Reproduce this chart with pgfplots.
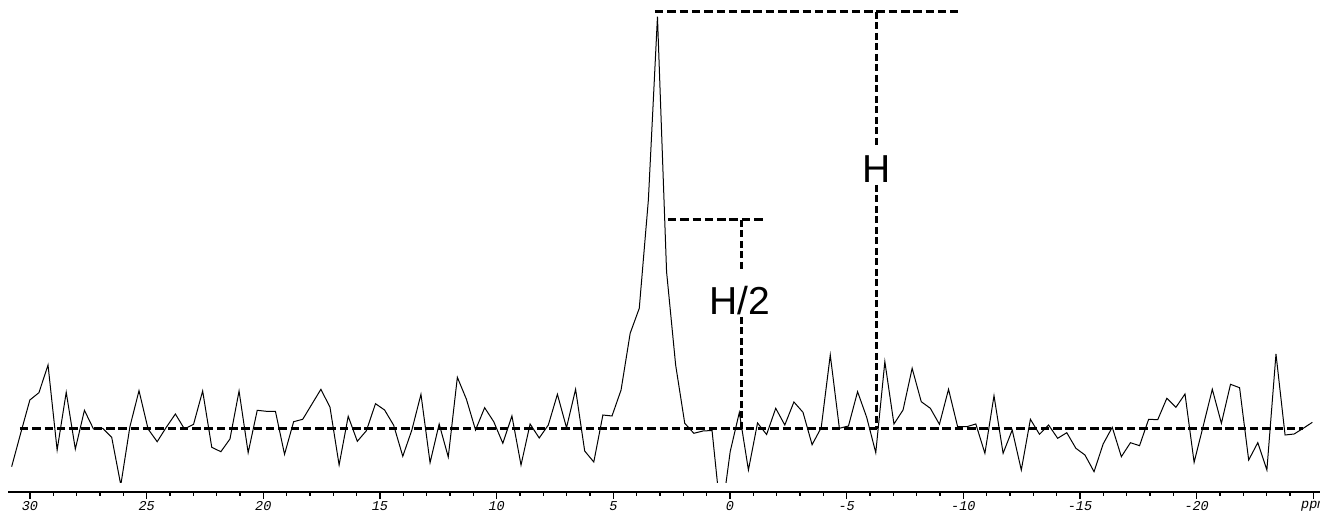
\documentclass[border=0pt]{standalone}
\usepackage{fontspec}
\usepackage{pgfplots}
\pgfplotsset{compat=1.18}
\newfontfamily\monoit{Liberation Mono}
\newfontfamily\sansf{Liberation Sans}
\begin{document}
\begin{tikzpicture}[x=1pt,y=1pt]
\pgfplotsset{
  common/.style={
    x=23.333pt, y=1pt, x dir=reverse,
    at={(730pt,87pt)}, anchor=origin,
  },
}
% data trace (clipped at the bottom)
\begin{axis}[common, hide axis, clip=true,
  xmin=-25.3, xmax=31, ymin=-54, ymax=430]
\addplot[black, line width=1pt, mark=none] coordinates {
(30.786,-37.7) (30.396,-4) (30.006,29) (29.617,36.3) (29.227,64) (28.837,-21)
(28.447,36.7) (28.057,-20) (27.667,18.7) (27.278,0) (26.888,0.7) (26.498,-8.3)
(26.108,-56) (25.718,2.3) (25.328,38.3) (24.939,0) (24.549,-12.7) (24.159,1.7)
(23.769,15) (23.379,0) (22.990,4.7) (22.600,38) (22.210,-18.3) (21.820,-22.7)
(21.430,-10) (21.040,38) (20.650,-23.7) (20.261,18.7) (19.871,17.7) (19.481,17.7)
(19.091,-25.3) (18.701,7.3) (18.311,9.7) (17.922,24.7) (17.532,39.7) (17.142,21.7)
(16.752,-36) (16.362,12.7) (15.972,-12.3) (15.583,-1.7) (15.193,25.3) (14.803,19)
(14.413,3.7) (14.023,-27.3) (13.634,-1) (13.244,34.7) (12.854,-33.7) (12.464,5)
(12.074,-28) (11.684,51.7) (11.295,29.7) (10.905,-1) (10.515,21.3) (10.125,7.3)
(9.735,-14.3) (9.345,13) (8.956,-36) (8.566,5) (8.176,-9) (7.786,4)
(7.396,34.7) (7.006,1.3) (6.617,39.7) (6.227,-22) (5.837,-33) (5.447,14)
(5.057,13) (4.668,39) (4.278,95.7) (3.888,120.7) (3.498,229) (3.108,412.3)
(2.718,157.3) (2.329,64) (1.939,5.7) (1.549,-4.3) (1.159,-2) (0.769,-1.5)
(0.379,-90) (-0.010,-22.5) (-0.400,16.5) (-0.790,-41) (-1.180,6) (-1.570,-5.5)
(-1.960,20.7) (-2.349,4) (-2.739,27) (-3.129,16.7) (-3.519,-15.7) (-3.909,1.3)
(-4.298,74) (-4.688,0.7) (-5.078,3) (-5.468,37.3) (-5.858,11.7) (-6.248,-23.7)
(-6.637,67.3) (-7.027,5) (-7.417,19) (-7.807,60.7) (-8.197,27.3) (-8.587,20.7)
(-8.976,4.7) (-9.366,39.7) (-9.756,2.3) (-10.146,2.3) (-10.536,5) (-10.925,-24.3)
(-11.315,33.3) (-11.705,-24.3) (-12.095,-1) (-12.485,-41) (-12.875,9.7) (-13.264,-5.3)
(-13.654,4) (-14.044,-9.3) (-14.434,-3.7) (-14.824,-19.3) (-15.213,-26) (-15.603,-42.7)
(-15.993,-15) (-16.383,1.7) (-16.773,-27.7) (-17.163,-13.7) (-17.552,-16.7) (-17.942,9.7)
(-18.332,9.3) (-18.722,30.7) (-19.112,21.7) (-19.501,35) (-19.891,-33.3) (-20.281,3)
(-20.671,39.7) (-21.061,5.7) (-21.451,44.7) (-21.840,41.3) (-22.230,-31) (-22.620,-13.7)
(-23.010,-41) (-23.400,75) (-23.789,-6) (-24.179,-5) (-24.569,0.7) (-24.959,6.7)
};
\end{axis}
% axis, annotations
\begin{axis}[common, clip=false,
  xmin=-25.29, xmax=30.94, ymin=-63, ymax=430,
  axis x line*=bottom, axis y line=none,
  x axis line style={line width=1.2pt},
  xtick={30,25,20,15,10,5,0,-5,-10,-15,-20,-25},
  xticklabels={30,25,20,15,10,5,0,-5,-10,-15,-20,ppm},
  minor x tick num=4,
  tick align=outside,
  major tick length=7pt, minor tick length=4pt,
  every tick/.style={black, line width=1.1pt},
  xticklabel style={font=\fontsize{13.5}{15}\selectfont\monoit\itshape, inner sep=2pt},
]
\end{axis}
% dashed annotation lines drawn in data units of the same frame
\begin{axis}[common, hide axis, clip=false,
  xmin=-25.29, xmax=30.94, ymin=-63, ymax=430]
\addplot[black, line width=3pt, dash pattern=on 8.5pt off 3.8pt] coordinates {(30.43,0) (-24.56,0)};
\addplot[black, line width=3pt, dash pattern=on 8.5pt off 3.8pt] coordinates {(3.214,417) (-9.77,417)};
\addplot[black, line width=3pt, dash pattern=on 7pt off 3.5pt] coordinates {(-6.30,417) (-6.30,284)};
\addplot[black, line width=3pt, dash pattern=on 7pt off 3.5pt] coordinates {(-6.30,244) (-6.30,0)};
\addplot[black, line width=3pt, dash pattern=on 8.5pt off 3.8pt] coordinates {(2.657,209) (-1.543,209)};
\addplot[black, line width=3pt, dash pattern=on 7pt off 3.5pt] coordinates {(-0.514,209) (-0.514,159)};
\addplot[black, line width=3pt, dash pattern=on 7pt off 3.5pt] coordinates {(-0.514,112) (-0.514,0)};
\node[font=\fontsize{39}{40}\selectfont\sansf, inner sep=0pt] at (axis cs:-6.30,260) {H};
\node[font=\fontsize{39}{40}\selectfont\sansf, inner sep=0pt] at (axis cs:-0.43,128) {H/2};
\end{axis}
\pgfresetboundingbox
\useasboundingbox (0pt,0pt) rectangle (1320pt,516pt);
\end{tikzpicture}
\end{document}
